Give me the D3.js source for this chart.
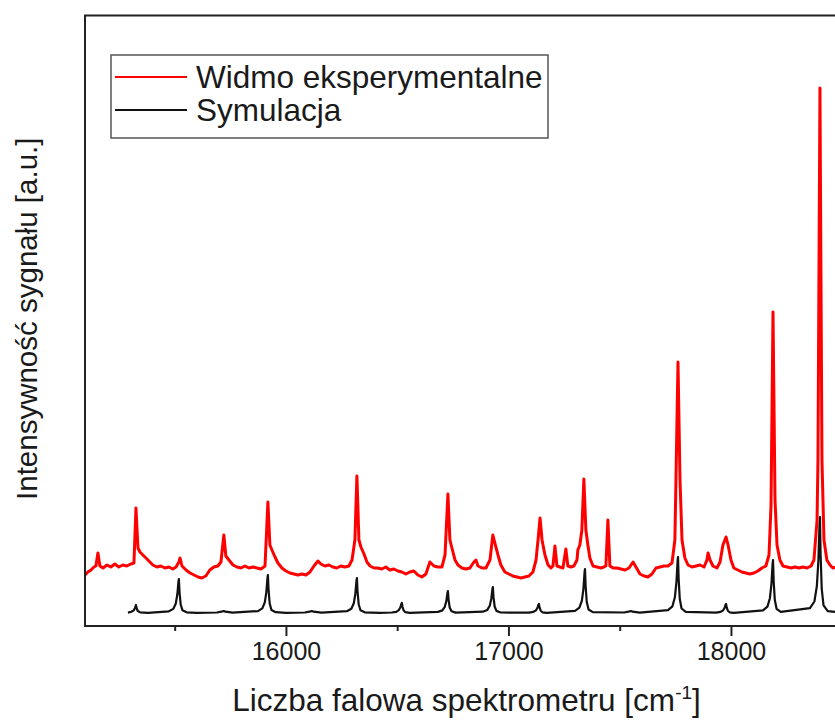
<!DOCTYPE html>
<html>
<head>
<meta charset="utf-8">
<script src="https://cdn.jsdelivr.net/npm/d3@7"></script>
<style>
  html, body { margin: 0; padding: 0; background: #fff; }
  svg { display: block; }
  text { font-family: "Liberation Sans", Arial, sans-serif; fill: #1a1a1a; }
</style>
</head>
<body>
<script>
// ---- data ----
const seriesNames = ["Widmo eksperymentalne", "Symulacja"];
const xTickValues = [16000, 17000, 18000];
const xMinorTickValues = [15500, 16500, 17500, 18500];
const xDomain = [15097, 18535];
const yDomain = [0, 610.5];

// experimental spectrum: [wavenumber, intensity]
const expSpectrum = [
[15097,51],[15110,54],[15124,56],[15137,59],[15146,60],[15155,73],[15164,60],[15178,58],[15196,61],[15213,59],
[15231,62],[15249,59],[15267,61],[15285,60],[15303,62],[15317,63],[15326,118],[15335,78],[15344,74],[15357,71],
[15371,68],[15384,65],[15402,61],[15420,59],[15438,60],[15456,58],[15474,59],[15492,57],[15506,59],[15519,64],
[15524,68],[15533,60],[15551,56],[15569,53],[15587,51],[15605,49],[15622,48],[15640,50],[15658,56],[15676,59],
[15694,60],[15708,64],[15721,91],[15730,70],[15744,66],[15762,61],[15780,59],[15798,58],[15816,60],[15834,58],
[15852,59],[15870,58],[15888,57],[15906,60],[15919,124],[15928,81],[15937,76],[15951,69],[15964,63],[15982,58],
[16000,55],[16018,53],[16036,52],[16054,51],[16072,52],[16090,51],[16108,54],[16126,60],[16144,65],[16157,62],
[16175,60],[16193,61],[16211,59],[16229,58],[16247,60],[16265,59],[16283,60],[16297,66],[16310,86],[16319,150],
[16328,86],[16337,79],[16351,72],[16364,64],[16378,60],[16396,58],[16413,58],[16431,57],[16449,59],[16467,56],
[16485,57],[16503,55],[16521,54],[16539,52],[16557,54],[16575,55],[16593,51],[16611,49],[16629,52],[16647,64],
[16665,60],[16683,59],[16701,59],[16715,71],[16728,132],[16737,86],[16746,78],[16760,66],[16773,61],[16791,58],
[16809,57],[16827,58],[16845,64],[16854,66],[16863,60],[16881,58],[16899,58],[16917,66],[16930,91],[16939,83],
[16953,71],[16966,61],[16984,54],[17002,52],[17020,50],[17038,49],[17056,48],[17074,49],[17092,50],[17110,54],
[17124,66],[17133,86],[17142,108],[17151,86],[17164,71],[17178,61],[17191,58],[17200,60],[17209,80],[17218,60],
[17231,59],[17245,58],[17258,77],[17267,60],[17281,59],[17294,60],[17308,66],[17312,76],[17321,81],[17330,96],
[17339,147],[17348,96],[17357,81],[17366,68],[17380,60],[17398,59],[17416,58],[17429,59],[17438,60],[17447,106],
[17456,60],[17470,58],[17488,58],[17506,57],[17524,56],[17542,58],[17560,64],[17573,59],[17591,52],[17609,50],
[17627,49],[17645,52],[17663,58],[17681,59],[17699,60],[17717,60],[17735,63],[17748,86],[17753,148],[17762,264],
[17771,146],[17780,86],[17793,68],[17807,61],[17825,59],[17843,60],[17861,61],[17879,59],[17892,66],[17897,73],
[17906,66],[17919,60],[17937,58],[17951,64],[17964,81],[17978,89],[17987,81],[18000,66],[18013,58],[18031,56],
[18049,54],[18067,53],[18085,52],[18103,53],[18121,55],[18139,58],[18157,60],[18171,71],[18180,120],[18189,314],
[18198,126],[18207,81],[18220,66],[18234,60],[18252,59],[18270,58],[18288,59],[18306,58],[18324,59],[18342,58],
[18360,60],[18373,66],[18387,106],[18391,166],[18400,538],[18409,166],[18418,86],[18431,66],[18445,61],[18458,58],
[18472,59],[18490,58],[18535,59],[18580,59]
];

// simulated spectrum: [wavenumber, intensity]
const simSpectrum = [
[15290,13.4],[15305,14.2],[15316,15.6],[15322,18],[15326,21],[15329,17.8],[15334,15],[15345,13.6],[15380,13.2],
[15474,14.7],[15494,17.1],[15505,22.5],[15512,31.7],[15517,44.3],[15519,47],[15522,33.4],[15527,21.5],[15535,15.7],[15554,13.7],
[15600,13.2],[15690,13.5],[15715,14.6],[15721,15],[15728,14.3],[15760,13.4],
[15874,14.9],[15894,17.6],[15905,23.6],[15912,33.9],[15917,48],[15919,51],[15922,35.8],[15927,22.5],[15935,16],[15954,13.8],
[16000,13.2],[16085,13.5],[16111,14.6],[16117,15],[16124,14.3],[16160,13.4],
[16274,14.8],[16294,17.2],[16305,22.8],[16312,32.3],[16317,45.2],[16319,48],[16322,34],[16327,21.8],[16335,15.8],[16354,13.7],
[16420,13.2],
[16476,13.5],[16496,14.2],[16507,15.8],[16514,18.5],[16519,22.2],[16521,23],[16524,19],[16529,15.5],[16537,13.8],[16556,13.2],
[16683,14.1],[16703,15.6],[16714,19.2],[16721,25.1],[16726,33.2],[16728,35],[16731,26.2],[16736,18.5],[16744,14.8],[16763,13.4],
[16885,14.3],[16905,16.1],[16916,20.3],[16923,27.3],[16928,36.9],[16930,39],[16933,28.6],[16938,19.5],[16946,15.1],[16965,13.5],
[17092,13.4],[17112,14.1],[17123,15.5],[17130,18],[17135,21.3],[17137,22],[17140,18.4],[17145,15.3],[17153,13.7],[17172,13.2],
[17299,15.2],[17319,18.3],[17330,25.3],[17337,37.2],[17342,53.5],[17344,57],[17347,39.4],[17352,24],[17360,16.5],[17379,13.9],
[17520,13.5],[17545,14.6],[17551,15],[17558,14.3],[17590,13.4],
[17717,15.8],[17737,19.7],[17748,28.7],[17755,43.8],[17760,64.5],[17762,69],[17765,46.6],[17770,27],[17778,17.5],[17797,14.1],
[17933,13.4],[17953,14.1],[17964,15.5],[17971,18],[17976,21.3],[17978,22],[17981,18.4],[17986,15.3],[17994,13.7],[18013,13.2],
[18144,15.7],[18164,19.4],[18175,27.8],[18182,42.2],[18187,61.8],[18189,66],[18192,44.8],[18197,26.3],[18205,17.2],[18224,14.1],
[18355,17.8],[18375,24.5],[18386,39.9],[18393,65.8],[18398,101.3],[18400,109],[18403,70.6],[18408,37],[18416,20.7],[18435,14.9],
[18500,13.3],[18600,13.2]
];

// ---- layout ----
const W = 835, H = 724;
const m = { left: 85, top: 15.5, right: 850, bottom: 626 };

const svg = d3.select("body").append("svg").attr("width", W).attr("height", H);

const x = d3.scaleLinear().domain(xDomain).range([m.left, m.right]);
const y = d3.scaleLinear().domain(yDomain).range([m.bottom, m.top]);

svg.append("defs").append("clipPath").attr("id", "plotclip")
  .append("rect").attr("x", m.left).attr("y", m.top)
  .attr("width", m.right - m.left).attr("height", m.bottom - m.top);

const line = d3.line().x(d => x(d[0])).y(d => y(d[1]));

const plot = svg.append("g").attr("clip-path", "url(#plotclip)");
plot.append("path").datum(simSpectrum).attr("d", line)
  .attr("fill", "none").attr("stroke", "#111").attr("stroke-width", 2.2).attr("stroke-linejoin", "round");
plot.append("path").datum(expSpectrum).attr("d", line)
  .attr("fill", "none").attr("stroke", "#ff0000").attr("stroke-width", 3).attr("stroke-linejoin", "round");

// frame
svg.append("rect").attr("x", m.left).attr("y", m.top)
  .attr("width", m.right - m.left).attr("height", m.bottom - m.top)
  .attr("fill", "none").attr("stroke", "#222").attr("stroke-width", 2);

// x axis
const xAxis = d3.axisBottom(x).tickValues(xTickValues).tickSize(10).tickPadding(6).tickFormat(d3.format("d"));
const gx = svg.append("g").attr("transform", `translate(0,${m.bottom})`).call(xAxis);
gx.select(".domain").remove();
gx.selectAll(".tick line").attr("stroke", "#222").attr("stroke-width", 2);
gx.selectAll(".tick text").attr("font-size", 25).attr("fill", "#1a1a1a")
  .style("font-family", '"Liberation Sans", Arial, sans-serif');

const xMinor = d3.axisBottom(x).tickValues(xMinorTickValues).tickSize(5).tickFormat("");
const gxm = svg.append("g").attr("transform", `translate(0,${m.bottom})`).call(xMinor);
gxm.select(".domain").remove();
gxm.selectAll(".tick line").attr("stroke", "#222").attr("stroke-width", 2);

// axis titles
const xt = svg.append("text").attr("x", (m.left + m.right) / 2 - 1).attr("y", 711)
  .attr("text-anchor", "middle").attr("font-size", 31.5);
xt.append("tspan").text("Liczba falowa spektrometru [cm");
xt.append("tspan").attr("font-size", 19).attr("dy", -12).text("-1");
xt.append("tspan").attr("dy", 12).text("]");

svg.append("text")
  .attr("transform", `translate(37,${(m.top + m.bottom) / 2 - 2}) rotate(-90)`)
  .attr("text-anchor", "middle").attr("font-size", 29.5)
  .text("Intensywność sygnału [a.u.]");

// legend
const lg = svg.append("g");
lg.append("rect").attr("x", 111).attr("y", 55).attr("width", 437).attr("height", 83)
  .attr("fill", "#fff").attr("stroke", "#555").attr("stroke-width", 1.5);
const legendColors = ["#ff0000", "#111"];
const legendY = [77, 110];
seriesNames.forEach((name, i) => {
  lg.append("line").attr("x1", 115).attr("x2", 187).attr("y1", legendY[i]).attr("y2", legendY[i])
    .attr("stroke", legendColors[i]).attr("stroke-width", 2);
  lg.append("text").attr("x", 196).attr("y", legendY[i] + 10.5).attr("font-size", 31.5).text(name);
});
</script>
</body>
</html>
